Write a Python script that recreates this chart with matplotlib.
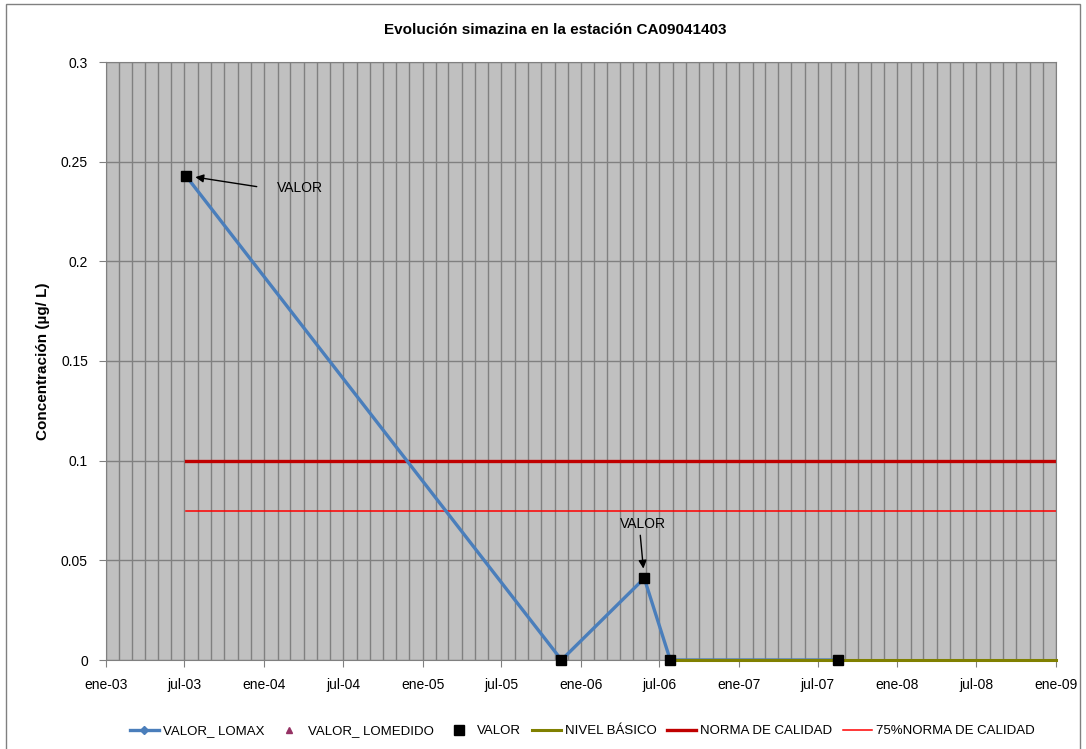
import datetime as dt
import matplotlib
matplotlib.use('Agg')
import matplotlib.pyplot as plt
import matplotlib.dates as mdates
from matplotlib.patches import Rectangle

plt.rcParams['font.family'] = ['Liberation Sans', 'DejaVu Sans']

# Datos
fechas = [dt.datetime(2003, 7, 4), dt.datetime(2005, 11, 17), dt.datetime(2006, 5, 27),
          dt.datetime(2006, 7, 26), dt.datetime(2007, 8, 18)]
valor_lomax = [0.243, 0.0, 0.041, 0.0, 0.0]
valor = [0.243, 0.0, 0.041, 0.0, 0.0]
valor_lomedido_fechas = []
valor_lomedido = []

nivel_fechas = [dt.datetime(2006, 7, 26), dt.datetime(2009, 1, 1)]
nivel_basico = [0.0, 0.0]

norma_fechas = [dt.datetime(2003, 7, 4), dt.datetime(2009, 1, 1)]
norma = [0.1, 0.1]
norma75 = [0.075, 0.075]

tick_fechas = [dt.datetime(2003 + i // 2, 1 + 6 * (i % 2), 1) for i in range(13)]
tick_labels = ['ene-03', 'jul-03', 'ene-04', 'jul-04', 'ene-05', 'jul-05', 'ene-06',
               'jul-06', 'ene-07', 'jul-07', 'ene-08', 'jul-08', 'ene-09']

fig = plt.figure(figsize=(10.86, 7.49), dpi=100)
ax = fig.add_axes([106 / 1086, 1 - 660 / 749, 950 / 1086, 598 / 749])
ax.set_facecolor('#C0C0C0')

# marco exterior del grafico
fig.patches.append(Rectangle((6 / 1086, -0.01), 1074 / 1086, 1 - 4 / 749 + 0.01,
                             transform=fig.transFigure, fill=False,
                             edgecolor='#808080', lw=1))

ax.plot(fechas, valor_lomax, color='#4A7EBB', lw=2.4, marker='D', ms=4,
        label='VALOR_ LOMAX', zorder=3, clip_on=False)
ax.plot(valor_lomedido_fechas, valor_lomedido, ls='none', marker='^', ms=5,
        color='#953264', label='VALOR_ LOMEDIDO')
ax.plot(fechas, valor, ls='none', marker='s', ms=7, color='black',
        label='VALOR', zorder=5, clip_on=False)
ax.plot(nivel_fechas, nivel_basico, color='#808000', lw=2.2, label='NIVEL BÁSICO',
        zorder=4, clip_on=False)
ax.plot(norma_fechas, norma, color='#C00000', lw=2.4, label='NORMA DE CALIDAD', zorder=2)
ax.plot(norma_fechas, norma75, color='#FF0000', lw=1.1, label='75%NORMA DE CALIDAD', zorder=2)

# etiquetas VALOR
ax.annotate('', xy=(fechas[0], valor[0]), xytext=(71, -11), textcoords='offset pixels',
            arrowprops=dict(arrowstyle='-|>', color='black', lw=1, shrinkA=0, shrinkB=7,
                            mutation_scale=12))
ax.annotate('VALOR', xy=(fechas[0], valor[0]), xytext=(91, -12), textcoords='offset pixels',
            va='center', ha='left', fontsize=10)
ax.annotate('', xy=(fechas[2], valor[2]), xytext=(-4, 43), textcoords='offset pixels',
            arrowprops=dict(arrowstyle='-|>', color='black', lw=1, shrinkA=0, shrinkB=7,
                            mutation_scale=12))
ax.annotate('VALOR', xy=(fechas[2], valor[2]), xytext=(-1, 54), textcoords='offset pixels',
            va='center', ha='center', fontsize=10)

ax.set_xlim(dt.datetime(2003, 1, 1), dt.datetime(2009, 1, 1))
ax.set_ylim(0, 0.3)
ax.set_yticks([0, 0.05, 0.1, 0.15, 0.2, 0.25, 0.3])
ax.set_yticklabels(['0', '0.05', '0.1', '0.15', '0.2', '0.25', '0.3'])
ax.set_xticks(tick_fechas)
ax.set_xticklabels(tick_labels)
ax.xaxis.set_minor_locator(mdates.MonthLocator())
ax.tick_params(axis='both', which='major', direction='out', length=5, color='#808080',
               labelsize=10, pad=8)
ax.tick_params(axis='x', which='minor', length=0)
ax.grid(True, axis='x', which='both', color='#808080', lw=1)
ax.grid(True, axis='y', which='major', color='#808080', lw=1)
ax.set_axisbelow(True)
for s in ax.spines.values():
    s.set_color('#808080')

ax.set_ylabel('Concentración (µg/ L)', fontsize=11, fontweight='bold')
ax.yaxis.set_label_coords(-0.059, 0.5)
fig.text(0.511, 1 - 30 / 749, 'Evolución simazina en la estación CA09041403',
         ha='center', va='center', fontsize=11, fontweight='bold')

fig.legend(loc='center', bbox_to_anchor=(0.536, 1 - 731 / 749), ncol=6, frameon=False,
           fontsize=9.5, handlelength=2.2, columnspacing=0.8, handletextpad=0.3)

fig.savefig('out.png', dpi=100)
